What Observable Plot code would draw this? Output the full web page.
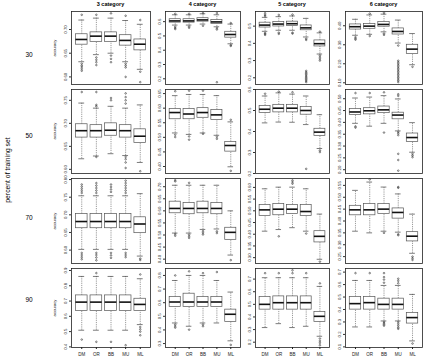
<!DOCTYPE html>
<html><head><meta charset="utf-8">
<script src="https://cdn.jsdelivr.net/npm/d3@7"></script>
<script src="https://cdn.jsdelivr.net/npm/@observablehq/plot@0.6"></script>
<style>
body{margin:0;background:#fff;}
#chart{position:relative;width:424px;height:361px;font-family:"Liberation Sans",Arial,sans-serif;overflow:hidden;background:#fff}
#chart svg{position:absolute}
.lbl{position:absolute;white-space:nowrap;color:#000;line-height:1}
</style></head><body><div id="chart"></div><script>
const methods = ["DM","OR","BB","MU","ML"];
const categories = ["3 category","4 category","5 category","6 category"];
const trainPct = ["30","50","70","90"];
const yAxisTitle = "accuracy";
const rowTitle = "percent of training set";

const yDomains = [
 [[0.584,0.738],[0.16,0.671],[0.161,0.585],[0.091,0.475]],
 [[0.591,0.7735],[0.376,0.664],[0.2,0.6],[0.184,0.539]],
 [[0.562,0.803],[0.382,0.734],[0.275,0.638],[0.221,0.579]],
 [[0.396,0.913],[0.271,0.851],[0.158,0.784],[0.095,0.729]]
];
const yTickLabels = [
 [["0.60","0.65","0.70"],["0.2","0.3","0.4","0.5","0.6"],["0.2","0.3","0.4","0.5"],["0.10","0.20","0.30","0.40"]],
 [["0.60","0.65","0.70","0.75"],["0.40","0.45","0.50","0.55","0.60","0.65"],["0.2","0.3","0.4","0.5","0.6"],["0.20","0.25","0.30","0.35","0.40","0.45","0.50"]],
 [["0.60","0.65","0.70","0.75","0.80"],["0.40","0.45","0.50","0.55","0.60","0.65","0.70"],["0.30","0.35","0.40","0.45","0.50","0.55","0.60"],["0.25","0.30","0.35","0.40","0.45","0.50","0.55"]],
 [["0.4","0.5","0.6","0.7","0.8","0.9"],["0.3","0.4","0.5","0.6","0.7","0.8"],["0.2","0.3","0.4","0.5","0.6","0.7"],["0.1","0.2","0.3","0.4","0.5","0.6","0.7"]]
];

const whiskerLow = [
 [[0.632,0.647,0.650,0.632,0.616],[0.576,0.576,0.583,0.564,0.445],[0.470,0.476,0.476,0.437,0.338],[0.350,0.355,0.368,0.309,0.195]],
 [[0.623,0.629,0.634,0.630,0.615],[0.515,0.510,0.515,0.507,0.399],[0.441,0.445,0.444,0.433,0.319],[0.396,0.384,0.396,0.364,0.274]],
 [[0.602,0.602,0.602,0.602,0.583],[0.508,0.508,0.523,0.525,0.417],[0.413,0.420,0.428,0.413,0.293],[0.357,0.350,0.357,0.353,0.264]],
 [[0.509,0.509,0.509,0.509,0.546],[0.451,0.427,0.451,0.451,0.320],[0.316,0.347,0.316,0.326,0.247],[0.260,0.260,0.308,0.308,0.148]]
];
const boxLow = [
 [[0.668,0.674,0.674,0.666,0.656],[0.593,0.593,0.600,0.583,0.488],[0.492,0.498,0.500,0.476,0.382],[0.380,0.384,0.395,0.354,0.252]],
 [[0.669,0.669,0.673,0.669,0.657],[0.562,0.562,0.567,0.559,0.451],[0.488,0.491,0.491,0.480,0.378],[0.431,0.434,0.439,0.413,0.317]],
 [[0.662,0.662,0.662,0.662,0.648],[0.590,0.586,0.590,0.586,0.480],[0.478,0.481,0.486,0.478,0.365],[0.424,0.424,0.429,0.410,0.314]],
 [[0.635,0.635,0.635,0.635,0.635],[0.568,0.568,0.568,0.568,0.459],[0.458,0.458,0.458,0.458,0.361],[0.399,0.399,0.399,0.399,0.287]]
];
const medians = [
 [[0.679,0.686,0.686,0.677,0.669],[0.605,0.605,0.612,0.598,0.510],[0.506,0.512,0.514,0.490,0.398],[0.395,0.398,0.407,0.370,0.277]],
 [[0.684,0.684,0.685,0.684,0.672],[0.585,0.580,0.585,0.577,0.472],[0.506,0.511,0.511,0.500,0.397],[0.444,0.449,0.453,0.431,0.336]],
 [[0.681,0.681,0.681,0.681,0.674],[0.610,0.610,0.610,0.610,0.511],[0.504,0.507,0.507,0.497,0.391],[0.447,0.447,0.450,0.436,0.336]],
 [[0.693,0.693,0.693,0.693,0.678],[0.605,0.605,0.605,0.605,0.515],[0.500,0.513,0.513,0.513,0.405],[0.447,0.455,0.441,0.441,0.335]]
];
const boxHigh = [
 [[0.690,0.694,0.694,0.688,0.679],[0.617,0.617,0.624,0.612,0.529],[0.520,0.524,0.526,0.504,0.417],[0.407,0.409,0.420,0.386,0.300]],
 [[0.698,0.696,0.700,0.696,0.687],[0.597,0.597,0.600,0.594,0.484],[0.522,0.527,0.527,0.516,0.413],[0.456,0.460,0.467,0.441,0.353]],
 [[0.702,0.702,0.702,0.702,0.693],[0.638,0.632,0.638,0.632,0.530],[0.525,0.529,0.525,0.525,0.413],[0.464,0.471,0.471,0.453,0.353]],
 [[0.737,0.737,0.737,0.737,0.715],[0.641,0.666,0.641,0.641,0.549],[0.558,0.563,0.563,0.563,0.439],[0.500,0.500,0.487,0.487,0.372]]
];
const whiskerHigh = [
 [[0.720,0.724,0.724,0.719,0.711],[0.648,0.648,0.655,0.648,0.583],[0.551,0.555,0.559,0.545,0.461],[0.434,0.457,0.461,0.430,0.359]],
 [[0.744,0.733,0.737,0.733,0.740],[0.643,0.647,0.647,0.643,0.553],[0.569,0.584,0.578,0.569,0.480],[0.503,0.507,0.513,0.499,0.399]],
 [[0.754,0.754,0.754,0.754,0.760],[0.706,0.706,0.706,0.706,0.600],[0.594,0.601,0.601,0.594,0.486],[0.529,0.564,0.543,0.514,0.429]],
 [[0.861,0.861,0.861,0.861,0.846],[0.763,0.800,0.800,0.763,0.678],[0.711,0.711,0.711,0.711,0.642],[0.633,0.633,0.593,0.593,0.521]]
];
const outliers = [
 [
  [[0.731,0.628,0.624,0.621,0.617,0.613],[0.731,0.641,0.636,0.631,0.625],[0.734,0.645,0.638,0.631],[0.729,0.628,0.624,0.620,0.600],[0.720,0.611,0.589]],
  [[0.655,0.564,0.555,0.548],[0.655,0.566,0.557],[0.660,0.571],[0.660,0.555,0.545,0.176],[0.590,0.436,0.430]],
  [[0.575,0.565,0.559,0.460,0.455,0.449],[0.565,0.462,0.455],[0.567,0.462,0.457],[0.427,0.420,0.240,0.232,0.225,0.218,0.210,0.203,0.196,0.189,0.182,0.175],[0.468,0.330,0.320,0.310,0.300]],
  [[0.340,0.333,0.327],[0.464,0.346],[0.468,0.359,0.352],[0.296,0.216,0.208,0.200,0.192,0.184,0.176,0.168,0.160,0.152,0.144,0.136,0.128,0.120,0.112,0.104],[0.184]]
 ],
 [
  [[0.768],[0.768,0.740,0.737,0.627],[0.755,0.750],[0.765,0.757,0.750,0.743,0.627,0.622,0.615,0.603],[0.596]],
  [[0.658,0.509,0.501],[0.660,0.503,0.492],[0.660,0.512],[0.502,0.495],[0.560,0.385]],
  [[0.580],[0.590],[0.587],[0.222],[0.310,0.302]],
  [[0.524,0.383,0.378],[0.524],[0.527,0.357],[0.519,0.512,0.360,0.354,0.346,0.267,0.241,0.196],[0.267,0.260,0.253]]
 ],
 [
  [[0.786,0.780,0.774,0.768,0.762,0.592,0.586,0.580,0.574],[0.790,0.783,0.776,0.769,0.762,0.592,0.586,0.579,0.571],[0.786,0.779,0.772,0.765,0.592,0.585,0.578],[0.797,0.790,0.783,0.776,0.769,0.762,0.592,0.586,0.580],[0.576,0.572]],
  [[0.727,0.722,0.504,0.497],[0.716,0.502,0.495,0.488],[0.516,0.509,0.502],[0.515,0.508],[0.396]],
  [[],[0.391],[0.630,0.623,0.616],[0.403],[0.283]],
  [[],[0.575],[0.350],[0.543,0.540,0.344,0.340],[0.250,0.243,0.236]]
 ],
 [
  [[0.448],[0.883,0.433],[0.433],[0.411],[0.874,0.530,0.515,0.500,0.476]],
  [[0.800,0.440,0.428,0.417],[0.830,0.402],[0.817,0.440,0.427],[0.825],[0.290]],
  [[0.747],[0.747],[0.770,0.747],[0.747],[0.666,0.229,0.210,0.195,0.176]],
  [[0.692],[0.692],[0.692,0.660,0.640,0.615,0.300,0.290,0.280,0.270],[0.647,0.630,0.610,0.300,0.285,0.270,0.255,0.245],[0.127]]
 ]
];

const FONT = '"Liberation Sans", Arial, sans-serif';
const colLeft = [71, 165, 255, 345], colWidth = [79, 75, 74, 77];
const rowTop = [11, 89, 178, 268], rowHeight = [73, 84, 85, 79];
const rowLabelY = [54.5, 136, 217.5, 299.5];
const ML = 14, MR = 2, MT = 3;
const chart = document.getElementById("chart");

function addLabel(text, x, y, size, opts = {}) {
  const d = document.createElement("div");
  d.className = "lbl";
  d.textContent = text;
  d.style.left = x + "px";
  d.style.top = y + "px";
  d.style.fontSize = size + "px";
  if (opts.bold) d.style.fontWeight = "bold";
  d.style.transform = "translate(-50%,-50%)" + (opts.rotate ? " rotate(-90deg)" : "");
  chart.appendChild(d);
}

trainPct.forEach((pct, r) => {
  categories.forEach((cat, c) => {
    const bottom = r === trainPct.length - 1;
    const MB = bottom ? 14 : 3;
    const rows = methods.map((m, k) => ({
      i: k + 1, lo: whiskerLow[r][c][k], q1: boxLow[r][c][k], med: medians[r][c][k],
      q3: boxHigh[r][c][k], hi: whiskerHigh[r][c][k]
    }));
    const outs = methods.flatMap((m, k) => outliers[r][c][k].map(v => ({i: k + 1, v})));
    const ticks = yTickLabels[r][c];
    const wh = {stroke: "#555", strokeWidth: 0.6, strokeDasharray: "1.2,1"};
    const cap = {stroke: "#444", strokeWidth: 0.7};
    const svg = Plot.plot({
      width: colWidth[c] + ML + MR,
      height: rowHeight[r] + MT + MB,
      marginLeft: ML, marginRight: MR, marginTop: MT, marginBottom: MB,
      style: {background: "transparent", overflow: "visible", fontFamily: FONT, fontSize: "4.5px", color: "#222"},
      x: {domain: [0.3, 5.7], axis: bottom ? "bottom" : null, ticks: [1, 2, 3, 4, 5],
          tickFormat: i => methods[i - 1], tickSize: 2, tickPadding: 3, label: null},
      y: {domain: yDomains[r][c], axis: null, label: null},
      marks: [
        Plot.ruleX(rows, {x: "i", y1: "lo", y2: "q1", ...wh}),
        Plot.ruleX(rows, {x: "i", y1: "q3", y2: "hi", ...wh}),
        Plot.ruleY(rows, {y: "lo", x1: d => d.i - 0.2, x2: d => d.i + 0.2, ...cap}),
        Plot.ruleY(rows, {y: "hi", x1: d => d.i - 0.2, x2: d => d.i + 0.2, ...cap}),
        Plot.rect(rows, {x1: d => d.i - 0.4, x2: d => d.i + 0.4, y1: "q1", y2: "q3", fill: "white", stroke: "#555", strokeWidth: 0.7}),
        Plot.ruleY(rows, {y: "med", x1: d => d.i - 0.4, x2: d => d.i + 0.4, stroke: "#111", strokeWidth: 1.6}),
        Plot.dot(outs, {x: "i", y: "v", r: 0.8, stroke: "#333", strokeWidth: 0.6, fill: "none"}),
        Plot.axisY(ticks.map(Number), {tickSize: 2, tickFormat: () => "", label: null, stroke: "#333"}),
        Plot.text(ticks, {y: d => +d, text: d => d, frameAnchor: "left", dx: -5, rotate: -90,
          textAnchor: "middle", lineAnchor: "bottom", fontSize: 4.3, fill: "#222"}),
        Plot.frame({stroke: "#222", strokeWidth: 0.8})
      ]
    });
    svg.style.left = (colLeft[c] - ML) + "px";
    svg.style.top = (rowTop[r] - MT) + "px";
    chart.appendChild(svg);
  });
  addLabel(pct, 29, rowLabelY[r], 6.5);
  addLabel(yAxisTitle, 55, rowTop[r] + rowHeight[r] / 2, 4.2, {rotate: true});
});
categories.forEach((cat, c) => addLabel(cat, colLeft[c] + colWidth[c] / 2, 4.5, 5.5, {bold: true}));
addLabel(rowTitle, 8, 170, 6.8, {rotate: true});
</script></body></html>
